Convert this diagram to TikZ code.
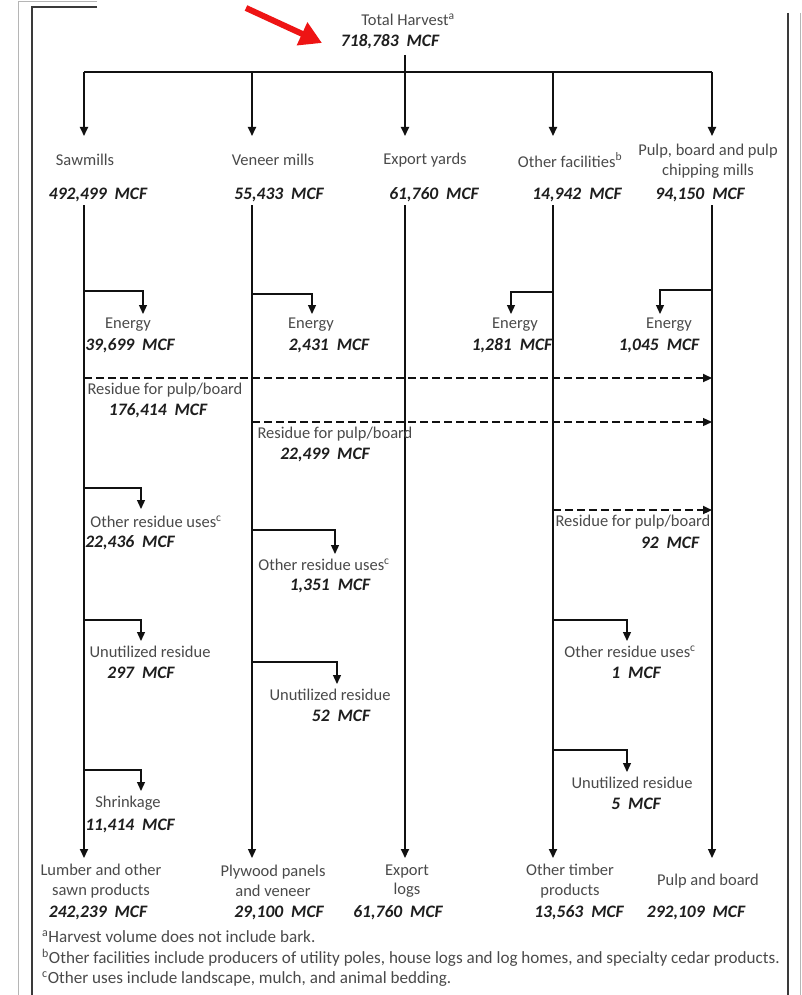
\documentclass[tikz,border=0pt]{standalone}
\usepackage{fontspec}
\setmainfont{Carlito}
\usetikzlibrary{arrows.meta}
\definecolor{lab}{HTML}{4A4A4A}
\definecolor{num}{HTML}{1E1E1E}
\definecolor{ln}{HTML}{111111}
\definecolor{fr}{HTML}{3A3A3A}
\definecolor{frl}{HTML}{B5B5B5}
\newcommand\mcfv[1]{#1\hspace{8pt}MCF}
\begin{document}
\begin{tikzpicture}[x=1pt,y=-1pt,
  lbl/.style={text=lab, font=\fontsize{16.5}{19.5}\selectfont, inner sep=0pt, align=center},
  val/.style={text=num, font=\fontsize{17.5}{20}\selectfont\bfseries\itshape, inner sep=0pt},
  foot/.style={text=lab, font=\fontsize{17.1}{19}\selectfont, inner sep=0pt, anchor=west},
  colthick/.style={draw=ln, line width=2pt},
  colthin/.style={draw=ln, line width=1.2pt},
  tipd/.style={-{Triangle[length=9pt,width=8pt]}},
  br/.style={draw=ln, line width=1.3pt, -{Triangle[length=9pt,width=8pt]}},
  dshk/.style={draw=ln, line width=2.2pt, dash pattern=on 8pt off 4pt, -{Triangle[length=9pt,width=8pt]}},
  dshn/.style={draw=ln, line width=1.3pt, dash pattern=on 8pt off 4pt, -{Triangle[length=9pt,width=8pt]}}
]
\useasboundingbox (0,0) rectangle (802,995);
\fill[white] (0,0) rectangle (802,995);
% frame
\draw[frl, line width=1pt] (97,1.5) -- (18,1.5) -- (18,995);
\draw[frl, line width=1pt] (800,13) -- (800,995);
\draw[fr, line width=2pt] (97,7) -- (32,7) -- (32,995);
\draw[fr, line width=2pt] (788,13) -- (788,995);

% top
\node[lbl] (tot) at (408,20) {Total Harvest\textsuperscript{a}};
\node[val] (totv) at (390,42) {\mcfv{718,783}};
\coordinate (totb) at (405,55);
\coordinate (bar) at (405,72);
\coordinate (barL) at (84,72);
\coordinate (barR) at (712,72);
\coordinate (venb) at (252,72);
\coordinate (othb) at (553,72);
\draw[draw=ln, line width=1.3pt] (totb) -- (bar);
\draw[draw=ln, line width=2.5pt] (barL) -- (barR);

% red arrow
\coordinate (rtail) at (246,8);
\coordinate (rhead) at (322,43);
\draw[draw={rgb,255:red,238;green,20;blue,20}, line width=6pt, -{Triangle[length=22pt,width=24pt]}] (rtail) -- (rhead);

% column headers
\node[lbl] (saw) at (85,160) {Sawmills};
\node[val] (sawv) at (98,195) {\mcfv{492,499}};
\node[lbl] (ven) at (273,160) {Veneer mills};
\node[val] (venv) at (279,195) {\mcfv{55,433}};
\node[lbl] (exp) at (425,160) {Export yards};
\node[val] (expv) at (434,195) {\mcfv{61,760}};
\node[lbl] (oth) at (570,160) {Other facilities\textsuperscript{b}};
\node[val] (othv) at (577,195) {\mcfv{14,942}};
\node[lbl] (pulp) at (708,161) {Pulp, board and pulp\\chipping mills};
\node[val] (pulpv) at (700,195) {\mcfv{94,150}};

% top arrows
\coordinate (sawa) at (84,136);
\coordinate (vena) at (252,136);
\coordinate (expa) at (405,136);
\coordinate (otha) at (553,136);
\coordinate (pulpa) at (712,136);
\draw[colthick, tipd] (barL) -- (sawa);
\draw[colthick, tipd] (venb) -- (vena);
\draw[colthick, tipd] (bar) -- (expa);
\draw[colthick, tipd] (othb) -- (otha);
\draw[colthick, tipd] (barR) -- (pulpa);

% bottom labels
\node[lbl] (sawF) at (101,881) {Lumber and other\\sawn products};
\node[val] (sawFv) at (98,913) {\mcfv{242,239}};
\node[lbl] (venF) at (273,881) {Plywood panels\\and veneer};
\node[val] (venFv) at (279,913) {\mcfv{29,100}};
\node[lbl] (expF) at (407,881) {Export\\logs};
\node[val] (expFv) at (398,913) {\mcfv{61,760}};
\node[lbl] (othF) at (570,881) {Other timber\\products};
\node[val] (othFv) at (579,913) {\mcfv{13,563}};
\node[lbl] (pulpF) at (708,881) {Pulp and board};
\node[val] (pulpFv) at (696,913) {\mcfv{292,109}};

% main columns
\coordinate (sawt) at (84,205);
\coordinate (vent) at (252,205);
\coordinate (expt) at (405,205);
\coordinate (otht) at (553,205);
\coordinate (pulpt) at (712,205);
\coordinate (sawe) at (84,858);
\coordinate (vene) at (252,858);
\coordinate (expe) at (405,858);
\coordinate (othe) at (553,858);
\coordinate (pulpe) at (712,858);
\draw[colthick, tipd] (sawt) -- (sawe);
\draw[colthin, line width=1.3pt, tipd] (vent) -- (vene);
\draw[colthick, tipd] (expt) -- (expe);
\draw[colthick, tipd] (otht) -- (othe);
\draw[colthin, tipd] (pulpt) -- (pulpe);

% ---- Sawmills branches
\node[lbl] (sawE) at (128,325) {Energy};
\node[val] (sawEv) at (130,346) {\mcfv{39,699}};
\draw[br] (84,291) -| (143,314);
\node[lbl] (sawR) at (165,390) {Residue for pulp/board};
\node[val] (sawRv) at (158,411) {\mcfv{176,414}};
\draw[dshk] (84,378) -- (712,378);
\node[lbl] (sawO) at (156,522) {Other residue uses\textsuperscript{c}};
\node[val] (sawOv) at (130,543) {\mcfv{22,436}};
\draw[br] (84,488) -| (141,509);
\node[lbl] (sawU) at (150,652) {Unutilized residue};
\node[val] (sawUv) at (141,673) {\mcfv{297}};
\draw[br] (84,620) -| (141,641);
\node[lbl] (sawS) at (128,803) {Shrinkage};
\node[val] (sawSv) at (130,826) {\mcfv{11,414}};
\draw[br] (84,770) -| (141,791);

% ---- Veneer branches
\node[lbl] (venE) at (311,325) {Energy};
\node[val] (venEv) at (329,346) {\mcfv{2,431}};
\draw[br] (252,294) -| (312,314);
\node[lbl] (venR) at (335,434) {Residue for pulp/board};
\node[val] (venRv) at (325,455) {\mcfv{22,499}};
\draw[dshn] (252,422) -- (712,422);
\node[lbl] (venO) at (324,565) {Other residue uses\textsuperscript{c}};
\node[val] (venOv) at (330,586) {\mcfv{1,351}};
\draw[br] (252,530) -| (335,554);
\node[lbl] (venU) at (330,695) {Unutilized residue};
\node[val] (venUv) at (341,716) {\mcfv{52}};
\draw[br] (252,662) -| (337,684);

% ---- Other facilities branches
\node[lbl] (othE) at (515,325) {Energy};
\node[val] (othEv) at (512,346) {\mcfv{1,281}};
\draw[br] (553,292) -| (511,314);
\node[lbl] (othR) at (633,522) {Residue for pulp/board};
\node[val] (othRv) at (670,543) {\mcfv{92}};
\draw[dshk] (553,510) -- (712,510);
\node[lbl] (othO) at (630,652) {Other residue uses\textsuperscript{c}};
\node[val] (othOv) at (636,673) {\mcfv{1}};
\draw[br] (553,620) -| (627,641);
\node[lbl] (othU) at (632,783) {Unutilized residue};
\node[val] (othUv) at (636,804) {\mcfv{5}};
\draw[br] (553,750) -| (627,772);

% ---- Pulp branches
\node[lbl] (pulpE) at (669,325) {Energy};
\node[val] (pulpEv) at (659,346) {\mcfv{1,045}};
\draw[br] (712,290) -| (660,314);

% footnotes
\node[foot] (fa) at (42,937) {\textsuperscript{a}Harvest volume does not include bark.};
\node[foot] (fb) at (42,958) {\textsuperscript{b}Other facilities include producers of utility poles, house logs and log homes, and specialty cedar products.};
\node[foot] (fc) at (42,979) {\textsuperscript{c}Other uses include landscape, mulch, and animal bedding.};
\end{tikzpicture}
\end{document}
